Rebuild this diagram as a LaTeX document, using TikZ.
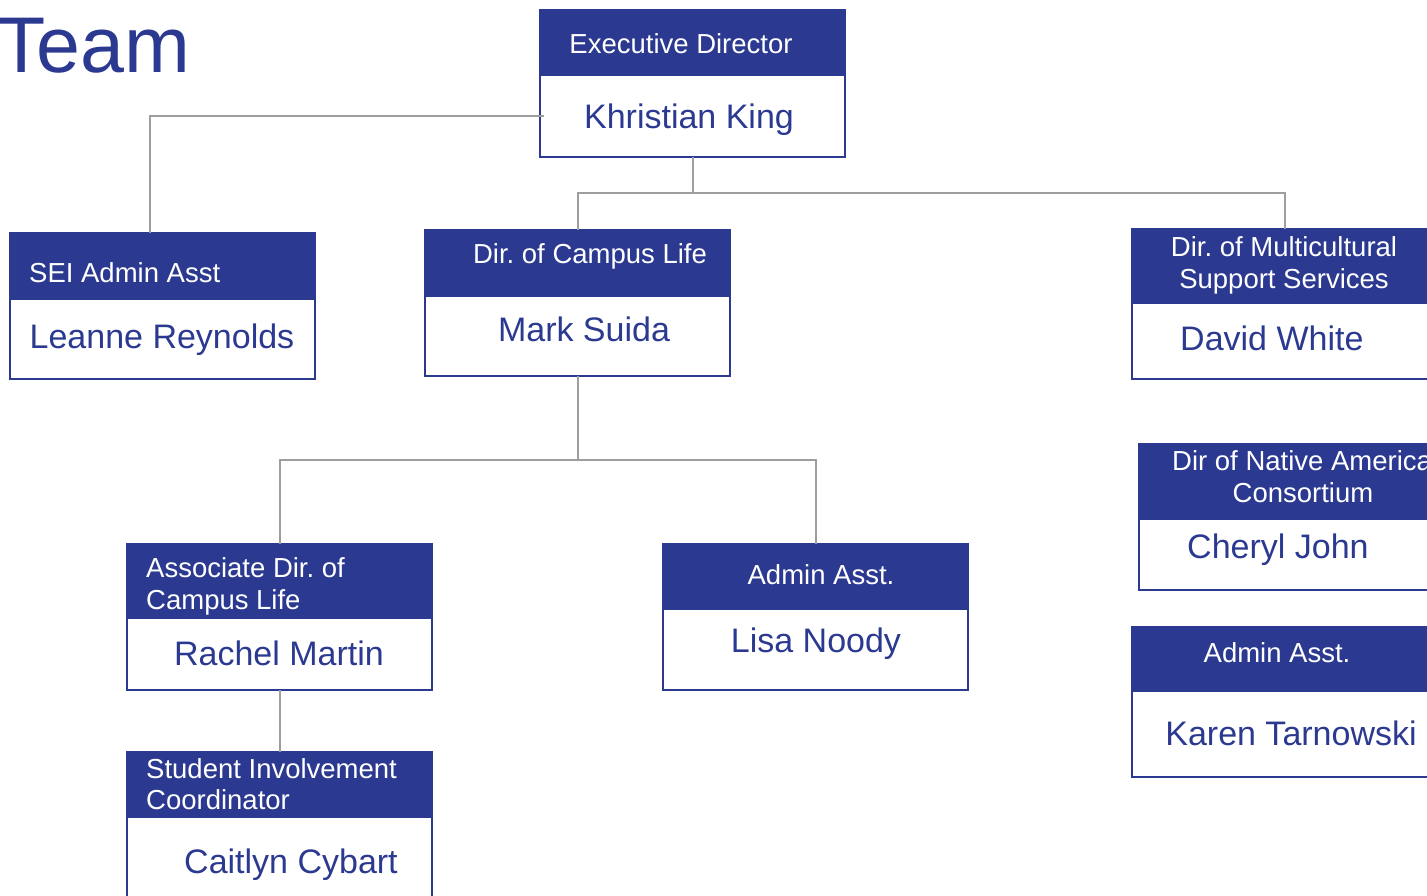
\documentclass[tikz,border=0pt]{standalone}
\usepackage{fontspec}
\setmainfont{Liberation Sans}
\frenchspacing
\definecolor{navy}{HTML}{2B3990}
\definecolor{connc}{HTML}{9E9E9E}
\tikzset{
  hdr/.style={rectangle, fill=navy, draw=navy, line width=1.2pt, anchor=north west, inner sep=0pt, outer sep=0pt, minimum width=305pt},
  bdy/.style={rectangle, fill=white, draw=navy, line width=1.5pt, anchor=north west, inner sep=0pt, outer sep=0pt, minimum width=305pt},
  htxt/.style={text=white, font=\fontsize{27.5}{30}\selectfont, inner sep=0pt},
  ntxt/.style={text=navy, font=\fontsize{34}{40}\selectfont, inner sep=0pt},
  conn/.style={draw=connc, line width=2pt},
}
\begin{document}
\begin{tikzpicture}[x=1pt,y=-1pt]
\useasboundingbox (0,0) rectangle (1427,895);
\clip (0,0) rectangle (1427,895);
\fill[white] (0,0) rectangle (1427,895);

% title
\node[text=navy, font=\fontsize{79}{84}\selectfont, inner sep=0pt, anchor=base west] (title) at (-3,72) {Team};

% boxes
\node[hdr, minimum height=65pt] (exh) at (540,10) {};
\node[bdy, minimum height=82pt] (exb) at (exh.south west) {};

\node[hdr, minimum height=66pt] (seih) at (10,233) {};
\node[bdy, minimum height=80pt] (seib) at (seih.south west) {};

\node[hdr, minimum height=66pt] (camh) at (425,230) {};
\node[bdy, minimum height=80pt] (camb) at (camh.south west) {};

\node[hdr, minimum height=74pt] (mulh) at (1132,229) {};
\node[bdy, minimum height=76pt] (mulb) at (mulh.south west) {};

\node[hdr, minimum height=75pt] (nath) at (1139,444) {};
\node[bdy, minimum height=71pt] (natb) at (nath.south west) {};

\node[hdr, minimum height=64pt] (admh) at (1132,627) {};
\node[bdy, minimum height=86pt] (admb) at (admh.south west) {};

\node[hdr, minimum height=74pt] (assh) at (127,544) {};
\node[bdy, minimum height=72pt] (assb) at (assh.south west) {};

\node[hdr, minimum height=65pt] (lish) at (663,544) {};
\node[bdy, minimum height=81pt] (lisb) at (lish.south west) {};

\node[hdr, minimum height=65pt] (stuh) at (127,752) {};
\node[bdy, minimum height=90pt] (stub) at (stuh.south west) {};

% header texts
\node[htxt, anchor=base] (t1) at (681,53) {Executive Director};
\node[htxt, anchor=base west] (t2) at (29,282) {SEI Admin Asst};
\node[htxt, anchor=base] (t3) at (590,263) {Dir. of Campus Life};
\node[htxt, anchor=base] (t4a) at (1284,256) {Dir. of Multicultural};
\node[htxt, anchor=base] (t4b) at (1284,288) {Support Services};
\node[htxt, anchor=base west] (t5a) at (1172,470) {Dir of Native American};
\node[htxt, anchor=base] (t5b) at (1303,502) {Consortium};
\node[htxt, anchor=base] (t6) at (1277,662) {Admin Asst.};
\node[htxt, anchor=base west] (t7a) at (146,577) {Associate Dir. of};
\node[htxt, anchor=base west] (t7b) at (146,609) {Campus Life};
\node[htxt, anchor=base] (t8) at (821,584) {Admin Asst.};
\node[htxt, anchor=base west] (t9a) at (146,778) {Student Involvement};
\node[htxt, anchor=base west] (t9b) at (146,809) {Coordinator};

% name texts
\node[ntxt, anchor=base] (n1) at (689,128) {Khristian King};
\node[ntxt, anchor=base] (n2) at (162,348) {Leanne Reynolds};
\node[ntxt, anchor=base] (n3) at (584,341) {Mark Suida};
\node[ntxt, anchor=base west] (n4) at (1180,350) {David White};
\node[ntxt, anchor=base west] (n5) at (1187,558) {Cheryl John};
\node[ntxt, anchor=base] (n6) at (1291,745) {Karen Tarnowski};
\node[ntxt, anchor=base] (n7) at (279,665) {Rachel Martin};
\node[ntxt, anchor=base] (n8) at (816,652) {Lisa Noody};
\node[ntxt, anchor=base] (n9) at (291,873) {Caitlyn Cybart};

% connectors
\coordinate (j1) at ([yshift=-36pt]exb.south);
\coordinate (j2) at ([yshift=-84pt]camb.south);
\coordinate (seitop) at ([xshift=-12.5pt]seih.north);
\draw[conn] ([xshift=4pt]exb.west) -| (seitop);
\draw[conn] (exb.south) -- (j1);
\draw[conn] (camh.north) |- (j1) -| (mulh.north);
\draw[conn] (camb.south) -- (j2);
\draw[conn] (assh.north) |- (j2) -| (lish.north);
\draw[conn] (assb.south) -- (stuh.north);
\end{tikzpicture}
\end{document}
